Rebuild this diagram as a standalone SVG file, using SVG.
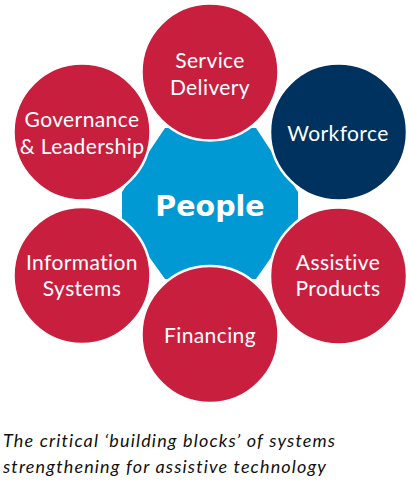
<svg xmlns="http://www.w3.org/2000/svg" width="411" height="486" viewBox="0 0 411 486">
<style>
.c{fill:#C91F3F;stroke:#fff;stroke-width:2.5}
.n{fill:#00325F;stroke:#fff;stroke-width:2.5}
.t{font-family:Lato,"Open Sans",sans-serif;font-size:21px;letter-spacing:0.4px;fill:#fff;text-anchor:middle}
.p{font-family:"DejaVu Sans",Lato,sans-serif;font-size:28.5px;font-weight:bold;fill:#fff;text-anchor:middle}
.cap{font-family:Lato,"Open Sans",sans-serif;font-size:18px;font-style:italic;letter-spacing:1.15px;fill:#111}
</style>
<rect width="411" height="486" fill="#fff"/>
<g id="people">
<polygon points="165,128 256,128 298,192 298,219 256,279 165,279 122,219 122,192" fill="#0099D4"/>
<text class="p" x="210" y="215.5">People</text>
</g>
<g id="connectors"></g>
<g id="service-delivery">
<circle class="c" cx="210" cy="72" r="68.5"/>
<text class="t" x="210" y="68">Service</text>
<text class="t" x="210" y="95">Delivery</text>
</g>
<g id="workforce">
<circle class="n" cx="338.5" cy="132" r="68.5"/>
<text class="t" x="338" y="141">Workforce</text>
</g>
<g id="assistive-products">
<circle class="c" cx="338.5" cy="276" r="68.5"/>
<text class="t" x="338" y="270">Assistive</text>
<text class="t" x="338" y="296">Products</text>
</g>
<g id="financing">
<circle class="c" cx="210" cy="334.5" r="68.5"/>
<text class="t" x="210" y="343">Financing</text>
</g>
<g id="information-systems">
<circle class="c" cx="82" cy="275.5" r="68.5"/>
<text class="t" x="82" y="270">Information</text>
<text class="t" x="82" y="296">Systems</text>
</g>
<g id="governance">
<circle class="c" cx="82" cy="132" r="68.5"/>
<text class="t" x="82" y="127">Governance</text>
<text class="t" x="82" y="154">&amp; Leadership</text>
</g>
<text class="cap" x="3" y="447">The critical ‘building blocks’ of systems</text>
<text class="cap" x="3" y="473">strengthening for assistive technology</text>
</svg>
